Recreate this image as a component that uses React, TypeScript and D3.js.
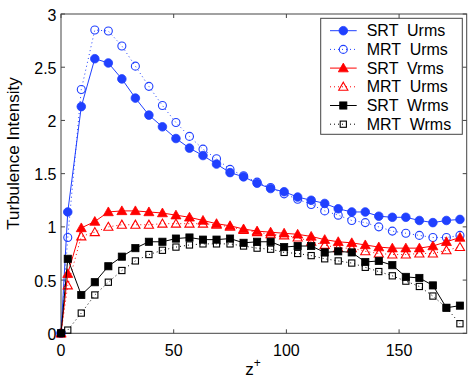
import React from 'react';
import * as d3 from 'd3';

// z+ positions of the samples
const zPlus = [0, 3, 9, 15, 21, 27, 33, 39, 45, 51, 57, 63, 69, 75, 81, 87, 93, 99, 105, 111, 117, 123, 129, 135, 141, 147, 153, 159, 165, 171, 177];

const srtU = [0, 1.14, 2.13, 2.58, 2.54, 2.39, 2.21, 2.05, 1.94, 1.83, 1.74, 1.67, 1.59, 1.51, 1.47, 1.41, 1.36, 1.33, 1.28, 1.25, 1.22, 1.17, 1.14, 1.14, 1.10, 1.09, 1.09, 1.06, 1.04, 1.06, 1.07];
const mrtU = [0, 0.90, 2.29, 2.85, 2.84, 2.70, 2.51, 2.32, 2.14, 1.98, 1.85, 1.73, 1.64, 1.54, 1.48, 1.42, 1.37, 1.31, 1.26, 1.21, 1.15, 1.11, 1.06, 1.04, 1.00, 0.96, 0.94, 0.92, 0.90, 0.90, 0.92];
const srtV = [0, 0.56, 0.99, 1.05, 1.14, 1.15, 1.15, 1.14, 1.13, 1.11, 1.09, 1.06, 1.03, 1.01, 0.98, 0.96, 0.95, 0.94, 0.93, 0.91, 0.88, 0.86, 0.85, 0.83, 0.81, 0.80, 0.80, 0.80, 0.82, 0.86, 0.90];
const mrtV = [0, 0.45, 0.91, 0.95, 1.00, 1.02, 1.02, 1.02, 1.03, 1.03, 1.03, 1.03, 1.02, 1.00, 0.97, 0.95, 0.93, 0.92, 0.90, 0.86, 0.83, 0.80, 0.80, 0.77, 0.75, 0.74, 0.74, 0.75, 0.75, 0.78, 0.81];
const srtW = [0, 0.70, 0.36, 0.48, 0.63, 0.72, 0.80, 0.86, 0.86, 0.89, 0.90, 0.88, 0.88, 0.89, 0.85, 0.86, 0.86, 0.81, 0.82, 0.82, 0.76, 0.77, 0.76, 0.67, 0.68, 0.64, 0.53, 0.52, 0.45, 0.24, 0.26];
const mrtW = [0, 0.03, 0.19, 0.36, 0.48, 0.59, 0.68, 0.74, 0.78, 0.81, 0.83, 0.84, 0.84, 0.84, 0.82, 0.80, 0.79, 0.76, 0.75, 0.73, 0.70, 0.68, 0.66, 0.62, 0.58, 0.54, 0.49, 0.44, 0.35, 0.24, 0.09];

const xTicks = [0, 50, 100, 150];
const yTicks = [0, 0.5, 1, 1.5, 2, 2.5, 3];
const legendLabels = ['SRT  Urms', 'MRT  Urms', 'SRT  Vrms', 'MRT  Urms', 'SRT  Wrms', 'MRT  Wrms'];

const BLUE = '#2040ff';
const RED = '#ff0000';
const BLACK = '#000000';

type Shape = 'circle' | 'triangle' | 'square';
interface Series { values: number[]; color: string; shape: Shape; filled: boolean; dotted: boolean; }

const series: Series[] = [
  { values: srtU, color: BLUE, shape: 'circle', filled: true, dotted: false },
  { values: mrtU, color: BLUE, shape: 'circle', filled: false, dotted: true },
  { values: srtV, color: RED, shape: 'triangle', filled: true, dotted: false },
  { values: mrtV, color: RED, shape: 'triangle', filled: false, dotted: true },
  { values: srtW, color: BLACK, shape: 'square', filled: true, dotted: false },
  { values: mrtW, color: BLACK, shape: 'square', filled: false, dotted: true },
];

const W = 471, H = 378;
const margin = { left: 61, right: 4.3, top: 14, bottom: 44.7 };
const FONT = '"Liberation Sans", Arial, sans-serif';
const AXIS = '#444';

const Marker = ({ x, y, s }: { x: number; y: number; s: Series }) => {
  const fill = s.filled ? s.color : 'none';
  const sw = s.filled ? 0.8 : 1.1;
  if (s.shape === 'circle') {
    return <circle cx={x} cy={y} r={s.filled ? 4.3 : 4} fill={fill} stroke={s.color} strokeWidth={sw} />;
  }
  if (s.shape === 'triangle') {
    const r = s.filled ? 5 : 4.6;
    const pts = `${x},${y - r} ${x + r},${y + r * 0.75} ${x - r},${y + r * 0.75}`;
    return <polygon points={pts} fill={fill} stroke={s.color} strokeWidth={sw} />;
  }
  const h = s.filled ? 3.6 : 3.1;
  return <rect x={x - h} y={y - h} width={2 * h} height={2 * h} fill={fill} stroke={s.color} strokeWidth={sw} />;
};

export default function App() {
  const xScale = d3.scaleLinear().domain([0, 180]).range([margin.left, W - margin.right]);
  const yScale = d3.scaleLinear().domain([0, 3]).range([H - margin.bottom, margin.top]);
  const line = d3.line<number>().x((_, i) => xScale(zPlus[i])).y(d => yScale(d));

  const x0 = xScale.range()[0], x1 = xScale.range()[1];
  const y0 = yScale.range()[0], y1 = yScale.range()[1];
  const tk = 4;

  // legend box
  const lg = { x: 320.7, y: 18.3, w: 141.6, h: 116, row: 18.7 };

  return (
    <svg width={W} height={H} style={{ position: 'absolute', left: 0, top: 0, background: '#fff' }} fontFamily={FONT}>
      <rect x={0} y={0} width={W} height={H} fill="#fff" />

      {/* ticks on all four sides */}
      {xTicks.map(t => (
        <g key={'xt' + t}>
          <line x1={xScale(t)} x2={xScale(t)} y1={y0} y2={y0 - tk} stroke={AXIS} />
          <line x1={xScale(t)} x2={xScale(t)} y1={y1} y2={y1 + tk} stroke={AXIS} />
          <text x={xScale(t)} y={356} textAnchor="middle" fontSize={16}>{t}</text>
        </g>
      ))}
      {yTicks.map(t => (
        <g key={'yt' + t}>
          <line x1={x0} x2={x0 + tk} y1={yScale(t)} y2={yScale(t)} stroke={AXIS} />
          <line x1={x1} x2={x1 - tk} y1={yScale(t)} y2={yScale(t)} stroke={AXIS} />
          <text x={x0 - 4.5} y={yScale(t) + 6.5} textAnchor="end" fontSize={16}>{t}</text>
        </g>
      ))}
      <rect x={x0} y={y1} width={x1 - x0} height={y0 - y1} fill="none" stroke={AXIS} />

      {/* series */}
      {series.map((s, si) => (
        <g key={'s' + si}>
          <path d={line(s.values) || ''} fill="none" stroke={s.color} strokeWidth={1}
            strokeDasharray={s.dotted ? '1,3' : undefined} />
          {s.values.map((v, i) => (
            <Marker key={i} x={xScale(zPlus[i])} y={yScale(v)} s={s} />
          ))}
        </g>
      ))}

      {/* axis labels */}
      <text x={253} y={374.5} textAnchor="middle" fontSize={17}>
        z<tspan dy={-8} fontSize={12}>+</tspan>
      </text>
      <text transform="translate(18.5,153.5) rotate(-90)" textAnchor="middle" fontSize={17}>Turbulence Intensity</text>

      {/* legend */}
      <rect x={lg.x} y={lg.y} width={lg.w} height={lg.h} fill="#fff" stroke={AXIS} />
      {series.map((s, i) => {
        const cy = 30.7 + i * lg.row;
        return (
          <g key={'lg' + i}>
            <line x1={330} x2={356.7} y1={cy} y2={cy} stroke={s.color} strokeDasharray={s.dotted ? '1,3' : undefined} />
            <Marker x={343.3} y={cy} s={s} />
            <text x={366.7} y={cy + 5.6} fontSize={16} style={{ whiteSpace: 'pre' }}>{legendLabels[i]}</text>
          </g>
        );
      })}
    </svg>
  );
}
